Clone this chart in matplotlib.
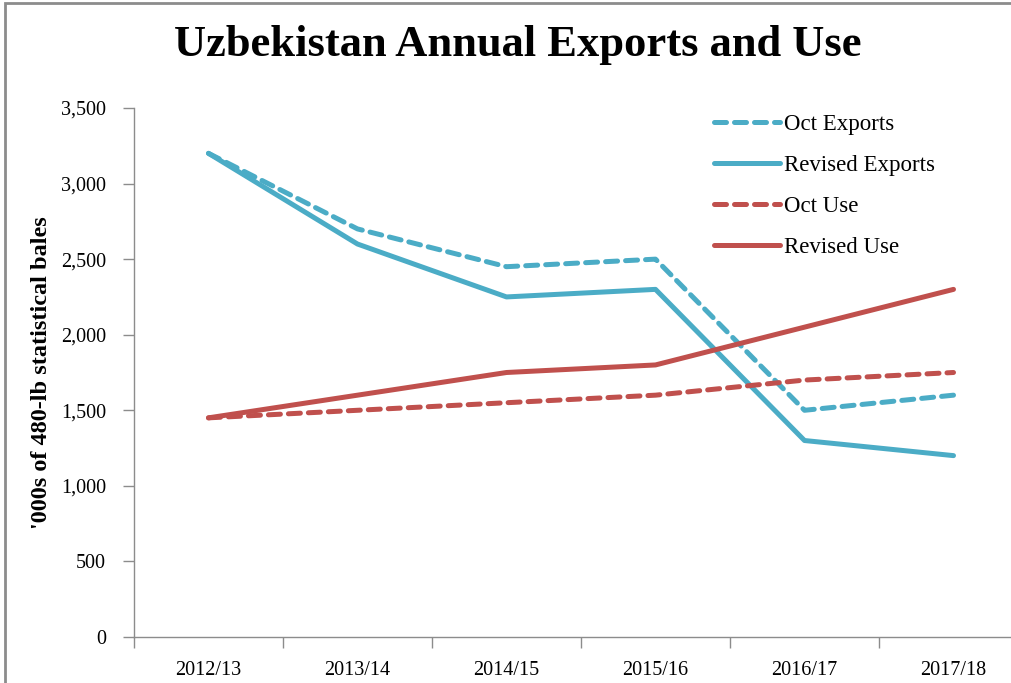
import matplotlib
matplotlib.use("Agg")
import matplotlib.pyplot as plt
from matplotlib.patches import Rectangle
from matplotlib.ticker import FuncFormatter, MultipleLocator, FixedLocator

categories = ["2012/13", "2013/14", "2014/15", "2015/16", "2016/17", "2017/18"]
oct_exports = [3200, 2700, 2450, 2500, 1500, 1600]
revised_exports = [3200, 2600, 2250, 2300, 1300, 1200]
oct_use = [1450, 1500, 1550, 1600, 1700, 1750]
revised_use = [1450, 1600, 1750, 1800, 2050, 2300]

BLUE = "#4BACC6"
RED = "#C0504D"
FONT = "Liberation Serif"

W, H = 1012, 683
fig = plt.figure(figsize=(W / 100, H / 100), dpi=100)
fig.patch.set_facecolor("white")

# outer chart border (cropped at right/bottom)
fig.patches.append(Rectangle((5 / W, -0.05), 1.2, (H - 3) / H + 0.05,
                             transform=fig.transFigure, fill=False,
                             edgecolor="#8c8c8c", linewidth=2.0))

ax = fig.add_axes([134 / W, (H - 637) / H, 894 / W, 529 / H])
x = list(range(len(categories)))
lw = 3.6
l1, = ax.plot(x, oct_exports, color=BLUE, lw=lw, ls=(0, (2.4, 1.6)),
              dash_capstyle="round", solid_capstyle="round", label="Oct Exports")
l2, = ax.plot(x, revised_exports, color=BLUE, lw=lw,
              solid_capstyle="round", label="Revised Exports")
l3, = ax.plot(x, oct_use, color=RED, lw=lw, ls=(0, (2.4, 1.6)),
              dash_capstyle="round", label="Oct Use")
l4, = ax.plot(x, revised_use, color=RED, lw=lw,
              solid_capstyle="round", label="Revised Use")

ax.set_xlim(-0.5, len(categories) - 0.5)
ax.set_ylim(0, 3500)
ax.yaxis.set_major_locator(MultipleLocator(500))
ax.yaxis.set_major_formatter(FuncFormatter(lambda v, p: f"{int(v):,}"))
ax.set_xticks(x)
ax.set_xticklabels(categories)
ax.xaxis.set_minor_locator(FixedLocator([i - 0.5 for i in range(len(categories) + 1)]))
ax.tick_params(axis="x", which="major", length=0, pad=17)
ax.tick_params(axis="x", which="minor", length=8, color="#8c8c8c", width=1)
ax.tick_params(axis="y", which="major", length=8, color="#8c8c8c", width=1, pad=12)
for lab in ax.get_xticklabels() + ax.get_yticklabels():
    lab.set_fontfamily(FONT)
    lab.set_fontsize(14.5)

for s in ["top", "right"]:
    ax.spines[s].set_visible(False)
for s in ["left", "bottom"]:
    ax.spines[s].set_color("#8c8c8c")
    ax.spines[s].set_linewidth(1)

ax.set_ylabel("'000s of 480-lb statistical bales", fontfamily=FONT,
              fontsize=17.5, fontweight="bold")
ax.yaxis.set_label_coords(-0.092, 0.5)

fig.text(518 / W, 1 - 45 / H, "Uzbekistan Annual Exports and Use",
         ha="center", va="center", fontfamily=FONT, fontsize=32,
         fontweight="bold")

leg = fig.legend(handles=[l1, l2, l3, l4], loc="upper left",
                 bbox_to_anchor=(693 / W, 1 - 93 / H), frameon=False,
                 prop={"family": FONT, "size": 16.5}, handlelength=2.9,
                 handletextpad=0.15, labelspacing=0.88)

fig.savefig("out.png", dpi=100, facecolor="white")
